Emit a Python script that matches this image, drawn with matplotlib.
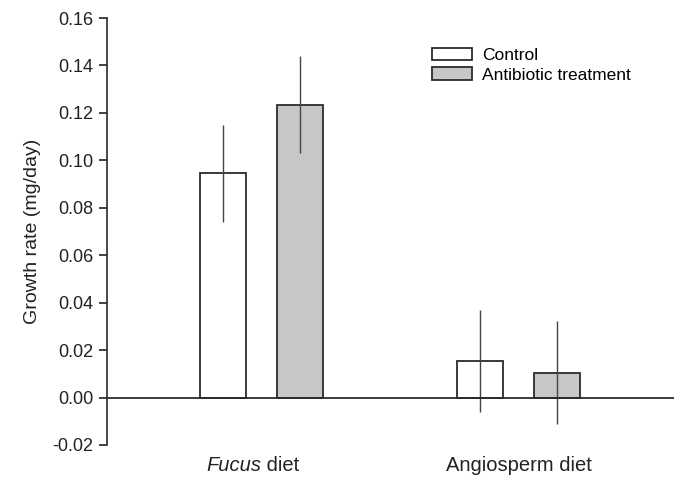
import matplotlib
matplotlib.use("Agg")
import matplotlib.pyplot as plt
import numpy as np

plt.rcParams['font.family'] = ['Liberation Sans', 'DejaVu Sans']

categories = ["Fucus diet", "Angiosperm diet"]
series_names = ["Control", "Antibiotic treatment"]
control_means = [0.0945, 0.0155]
control_err = [0.0205, 0.0215]
antibiotic_means = [0.1234, 0.0105]
antibiotic_err = [0.0205, 0.0218]
yticks = [-0.02, 0.00, 0.02, 0.04, 0.06, 0.08, 0.10, 0.12, 0.14, 0.16]

fig = plt.figure(figsize=(6.81, 4.8), dpi=100)
ax = fig.add_axes([0.157, 0.073, 0.833, 0.8895])

x = np.arange(len(categories))
off = 0.15
w = 0.18
edge = '#2b2b2b'
ax.bar(x - off, control_means, w, color='white', edgecolor=edge, linewidth=1.3,
       label=series_names[0], zorder=2)
ax.bar(x + off, antibiotic_means, w, color='#c6c7c9', edgecolor=edge, linewidth=1.3,
       label=series_names[1], zorder=2)
ax.errorbar(x - off, control_means, yerr=control_err, fmt='none', ecolor='#444444',
            elinewidth=1.0, capsize=0, zorder=3)
ax.errorbar(x + off, antibiotic_means, yerr=antibiotic_err, fmt='none', ecolor='#444444',
            elinewidth=1.0, capsize=0, zorder=3)

ax.axhline(0, color=edge, linewidth=1.3, zorder=4)

ax.set_xlim(-0.601, 1.605)
ax.set_ylim(-0.02, 0.16)
ax.set_yticks(yticks)
ax.set_yticklabels([f"{v:.2f}" for v in yticks], fontsize=13, color='#222222')
ax.tick_params(axis='y', direction='out', length=6, width=1.2, pad=4, colors='#222222')
ax.set_xticks([])

for s in ['top', 'right', 'bottom']:
    ax.spines[s].set_visible(False)
ax.spines['left'].set_linewidth(1.2)
ax.spines['left'].set_color(edge)

ax.set_ylabel("Growth rate (mg/day)", fontsize=14, color='#222222', labelpad=8)

# category labels
ax.text(x[0], -0.0285, "Fucus", style='italic', fontsize=14.5, ha='right', va='center',
        color='#222222')
ax.text(x[0], -0.0285, " diet", fontsize=14.5, ha='left', va='center', color='#222222')
ax.text(x[1], -0.0285, categories[1], fontsize=14.5, ha='center', va='center', color='#222222')

leg = ax.legend(loc='upper left', bbox_to_anchor=(0.561, 0.947), frameon=False,
                fontsize=12.5, handlelength=2.3, handleheight=0.75, handletextpad=0.57,
                labelspacing=0.25, borderaxespad=0)

fig.savefig("out.png", dpi=100)
